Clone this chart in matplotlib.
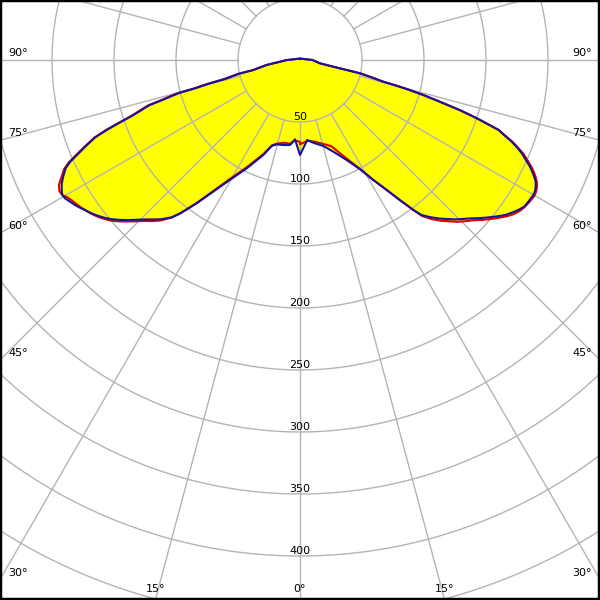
import numpy as np
import matplotlib
matplotlib.use("Agg")
import matplotlib.pyplot as plt

# ---------------- data (cd/klm) ----------------
# left half-plane (C180 side): gamma angles in degrees
gamma_left = [0, 3.6, 6.7, 11.1, 15.5, 18.2, 21.1, 26.2, 30.3, 33.4,
              35.8, 38.0, 39.2, 41.0, 42.6, 44.2, 45.6, 47.0, 48.4, 49.8,
              51.0, 52.3, 53.6, 55.1, 56.1, 57.2, 58.4, 59.5, 60.4, 61.4,
              62.6, 63.8, 65.2, 66.1, 66.9, 68.0, 69.3, 70.1, 70.6, 71.7,
              73.3, 73.9, 74.8, 74.9, 75.5, 75.8, 77.3, 77.9, 81.5, 85.1,
              90, 100, 120, 150, 180]
blue_left = [76.6, 64.1, 69.0, 69.9, 70.6, 73.0, 82.1, 97.4, 112.0, 127.2,
             142.5, 157.0, 163.7, 170.1, 174.7, 179.3, 184.2, 189.3, 194.2, 198.9,
             202.4, 205.6, 208.6, 211.4, 213.7, 215.9, 217.9, 219.9, 220.5, 218.9,
             216.4, 212.8, 208.2, 202.8, 195.7, 186.9, 176.7, 165.8, 158.0, 141.6,
             127.0, 114.0, 100.3, 87.7, 75.0, 62.4, 50.5, 38.5, 27.2, 16.2,
             10.5, 4, 2, 1, 1]
red_left = [66, 65, 68, 68, 70, 72.5, 81, 96, 110.5, 126,
            142, 157, 164, 171.5, 176.5, 181, 186, 191, 196, 200.5,
            203.5, 206.5, 209, 211.5, 213, 214.5, 216, 218, 220.5, 221,
            219, 214.5, 209.5, 204, 197, 188, 177.5, 167, 159, 143,
            128.5, 116, 103, 90, 77, 64, 51.5, 39, 27.5, 16.2,
            10.5, 4, 2, 1, 1]

# right half-plane (C0 side)
gamma_right = [0, 5.2, 9.1, 15.2, 20.0, 25.0, 28.8, 31.4, 33.7, 35.5,
               37.1, 38.1, 39.6, 41.1, 42.7, 44.2, 45.8, 47.3, 48.7, 50.1,
               51.5, 52.9, 54.2, 55.5, 56.8, 58.2, 59.9, 60.9, 61.7, 62.7,
               63.5, 64.3, 65.1, 66.1, 67.2, 68.1, 68.9, 69.7, 70.6, 71.6,
               72.1, 72.6, 73.4, 74.1, 74.7, 75.1, 75.4, 76.4, 77.5, 77.9,
               78.6, 80.6, 90, 100, 120, 150, 180]
blue_right = [76.6, 64.8, 67.6, 71.9, 78.7, 89.0, 100.6, 113.4, 126.0, 138.7,
              151.6, 158.9, 164.4, 169.5, 174.5, 179.3, 183.8, 188.3, 193.2, 197.9,
              202.6, 207.3, 210.5, 213.6, 216.1, 216.7, 217.4, 217.0, 215.8, 213.9,
              211.1, 207.9, 204.5, 199.3, 194.0, 188.4, 183.0, 176.2, 169.6, 153.0,
              144.1, 135.2, 117.8, 104.8, 91.9, 80.7, 69.4, 59.5, 49.6, 38.5,
              27.4, 16.3, 10, 4, 2, 1, 1]
red_right = [68, 65.5, 66.5, 70, 74, 87, 100, 113, 126, 139,
             152, 160, 166.5, 172, 177, 182, 186.5, 190.5, 195.5, 200,
             204.5, 209, 212.5, 215, 216.5, 217.5, 218.5, 218, 217, 215,
             212.5, 209.5, 206, 201, 195.5, 189.5, 184, 177, 170, 152.5,
             143.5, 134.5, 117, 104, 91, 80, 68.5, 59, 49.5, 38.3,
             27.4, 16.3, 10, 4, 2, 1, 1]

ring_values = [50, 100, 150, 200, 250, 300, 350, 400, 450, 500]
ring_labels = [50, 100, 150, 200, 250, 300, 350, 400]
spoke_angles = list(range(-180, 180, 15))
angle_labels = [0, 15, 30, 45, 60, 75, 90]

# ---------------- layout ----------------
PX = 1.24          # pixels per cd unit
fig = plt.figure(figsize=(6, 6), dpi=100)
ax = fig.add_axes([0, 0, 1, 1])
X1 = 300 / PX
Y0 = -540 / PX
Y1 = 60 / PX
ax.set_xlim(-X1, X1)
ax.set_ylim(Y0, Y1)
ax.set_xticks([])
ax.set_yticks([])
for s in ax.spines.values():
    s.set_linewidth(3.2)
    s.set_color("black")
    s.set_zorder(10)


def curve_xy(gl, rl, gr, rr):
    gl = np.radians(np.asarray(gl, float))
    gr = np.radians(np.asarray(gr, float))
    rl = np.asarray(rl, float)
    rr = np.asarray(rr, float)
    x = np.concatenate([(-rl * np.sin(gl))[::-1], rr * np.sin(gr)])
    y = np.concatenate([(-rl * np.cos(gl))[::-1], -rr * np.cos(gr)])
    return x, y


bx, by = curve_xy(gamma_left, blue_left, gamma_right, blue_right)
rx, ry = curve_xy(gamma_left, red_left, gamma_right, red_right)

ax.fill(bx, by, color="#ffff00", lw=0, zorder=1)
ax.fill(rx, ry, color="#ffff00", lw=0, zorder=1)

grid_c = "#b4b4b4"
th = np.linspace(0, 2 * np.pi, 1441)
for r in ring_values:
    ax.plot(r * np.sin(th), r * np.cos(th), color=grid_c, lw=1.0, zorder=2)
for g in spoke_angles:
    a = np.radians(g)
    ax.plot([50 * np.sin(a), 800 * np.sin(a)], [-50 * np.cos(a), -800 * np.cos(a)],
            color=grid_c, lw=1.0, zorder=2)

ax.plot(rx, ry, color="#e00000", lw=1.5, zorder=3, solid_joinstyle="round")
ax.plot(bx, by, color="#14149c", lw=1.5, zorder=4, solid_joinstyle="round")

fs = 8
for r in ring_labels:
    ax.annotate(str(r), xy=(0, -r), xytext=(0, 2), textcoords="offset pixels",
                ha="center", va="baseline", fontsize=fs, zorder=6)

for g in angle_labels:
    sides = [1] if g == 0 else [-1, 1]
    for side in sides:
        a = np.radians(g)
        if g == 90:
            xy = (side * X1, 0.0)
            on_side = True
        elif g == 0:
            on_side = False
            xy = (0.0, Y0)
        else:
            ye = -X1 / np.tan(a)
            if ye >= Y0:
                on_side = True
                xy = (side * X1, ye)
            else:
                on_side = False
                xy = (side * (-Y0) * np.tan(a), Y0)
        if on_side:
            ax.annotate(f"{g}°", xy=xy, xytext=(-side * 8, 4), textcoords="offset pixels",
                        ha="left" if side < 0 else "right", va="baseline",
                        fontsize=fs, zorder=6, annotation_clip=False)
        else:
            ax.annotate(f"{g}°", xy=xy, xytext=(0, 8), textcoords="offset pixels",
                        ha="center", va="baseline", fontsize=fs, zorder=6,
                        annotation_clip=False)

fig.savefig("out.png", dpi=100)
